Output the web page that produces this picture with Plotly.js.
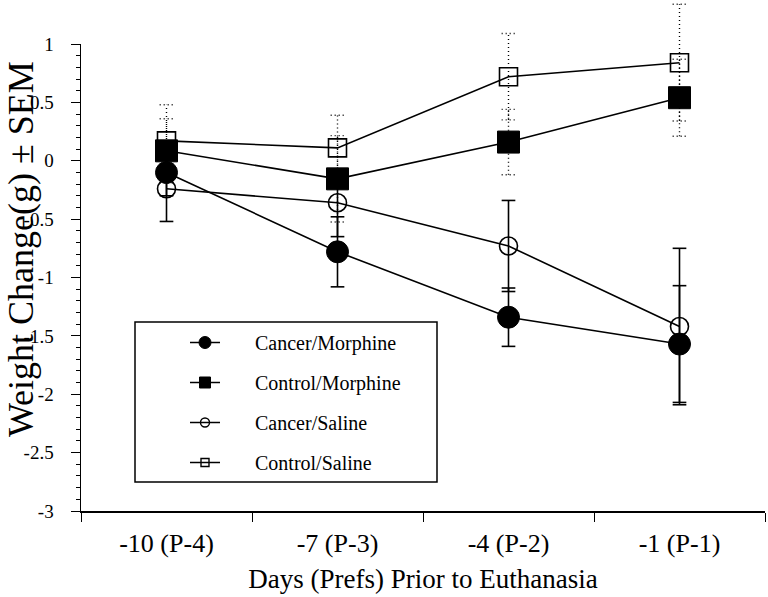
<!DOCTYPE html>
<html><head><meta charset="utf-8">
<script src="https://cdn.plot.ly/plotly-3.0.1.min.js"></script>
<style>html,body{margin:0;padding:0;background:#fff}#chart{width:768px;height:597px}</style>
</head><body><div id="chart"></div>
<script>
const days = ['-10 (P-4)', '-7 (P-3)', '-4 (P-2)', '-1 (P-1)'];
const dayIndex = [0, 1, 2, 3];
const cancerMorphine = [-0.10, -0.78, -1.34, -1.57];
const cancerMorphineSem = [0.20, 0.30, 0.25, 0.50];
const controlMorphine = [0.085, -0.155, 0.16, 0.54];
const controlMorphineSem = [0.275, 0.37, 0.28, 0.33];
const cancerSaline = [-0.24, -0.36, -0.73, -1.42];
const cancerSalineSem = [0.28, 0.29, 0.39, 0.67];
const controlSaline = [0.17, 0.11, 0.72, 0.84];
const controlSalineSem = [0.31, 0.28, 0.37, 0.50];
const yTickVals = [-3, -2.5, -2, -1.5, -1, -0.5, 0, 0.5, 1];
const yTickText = ['-3', '-2.5', '-2', '-1.5', '-1', '-0.5', '0', '0.5', '1'];
const xBoundaries = [-0.5, 0.5, 1.5, 2.5, 3.5];
const seriesNames = ['Cancer/Morphine', 'Control/Morphine', 'Cancer/Saline', 'Control/Saline'];

const FONT = 'Liberation Serif, Times New Roman, serif';
const CAP = 0.04;
const PAD = '\u00A0'.repeat(6);

function errPath(vals, sems) {
  const x = [], y = [];
  vals.forEach((v, i) => {
    const lo = v - sems[i], hi = v + sems[i];
    const xi = dayIndex[i];
    x.push(xi, xi, null, xi - CAP, xi + CAP, null, xi - CAP, xi + CAP, null);
    y.push(lo, hi, null, hi, hi, null, lo, lo, null);
  });
  return {x, y};
}

function errTrace(vals, sems, dotted) {
  const p = errPath(vals, sems);
  return {
    x: p.x, y: p.y, xaxis: 'x', yaxis: 'y2', type: 'scatter', mode: 'lines',
    line: {color: '#000', width: dotted ? 1.4 : 1.6, dash: dotted ? '1px,3px' : 'solid'},
    showlegend: false, hoverinfo: 'skip', connectgaps: false
  };
}

function seriesTrace(vals, symbol, size, lw) {
  return {
    x: dayIndex, y: vals, type: 'scatter', mode: 'lines+markers',
    xaxis: 'x', yaxis: 'y', showlegend: false,
    line: {color: '#000', width: 1.6},
    marker: {symbol: symbol, size: size, color: '#000', line: {color: '#000', width: lw}}
  };
}

function legendTrace(name, symbol, size, lw, group) {
  return {
    x: [null], y: [null], name: PAD + name, type: 'scatter', mode: 'lines+markers',
    xaxis: 'x', yaxis: 'y', legendgroup: group, showlegend: true,
    line: {color: '#000', width: 1.5},
    marker: {symbol: symbol, size: size, color: '#000', line: {color: '#000', width: lw}}
  };
}

const data = [
  errTrace(cancerMorphine, cancerMorphineSem, false),
  errTrace(controlMorphine, controlMorphineSem, true),
  errTrace(cancerSaline, cancerSalineSem, false),
  errTrace(controlSaline, controlSalineSem, true),
  seriesTrace(cancerMorphine, 'circle', 22, 1),
  seriesTrace(controlMorphine, 'square', 22, 1),
  seriesTrace(cancerSaline, 'circle-open', 18, 1.6),
  seriesTrace(controlSaline, 'square-open', 18, 1.6),
  legendTrace(seriesNames[0], 'circle', 12, 1, 'g1'),
  legendTrace(seriesNames[1], 'square', 11, 1, 'g2'),
  legendTrace(seriesNames[2], 'circle-open', 9, 1.4, 'g3'),
  legendTrace(seriesNames[3], 'square-open', 8, 1.4, 'g4')
];

const H1 = 467, H2 = 509;
const domTop = H1 / H2;

const layout = {
  width: 768, height: 597,
  margin: {l: 81, r: 3, t: 2, b: 86},
  paper_bgcolor: '#fff', plot_bgcolor: 'rgba(0,0,0,0)',
  font: {family: FONT, color: '#000'},
  showlegend: true,
  xaxis: {
    type: 'linear', range: [-0.5, 3.5], anchor: 'y',
    tickmode: 'array', tickvals: dayIndex, ticktext: days,
    ticks: '', showgrid: false, zeroline: false,
    showline: true, linecolor: '#000', linewidth: 1.5,
    tickfont: {family: FONT, size: 26, color: '#000'},
    ticklabelstandoff: 8,
    minor: {tickmode: 'array', tickvals: xBoundaries, ticks: 'outside', ticklen: 9, tickwidth: 1, tickcolor: '#000', showgrid: false},
    title: {text: 'Days (Prefs) Prior to Euthanasia', font: {family: FONT, size: 27, color: '#000'}, standoff: 12}
  },
  yaxis: {
    domain: [0, domTop], range: [-3, 1], anchor: 'x',
    tickmode: 'array', tickvals: yTickVals, ticktext: yTickText,
    ticks: 'outside', ticklen: 9, tickwidth: 1, tickcolor: '#000',
    minor: {dtick: 0.1, ticks: 'outside', ticklen: 4, tickwidth: 1, tickcolor: '#000', showgrid: false},
    showgrid: false, zeroline: false,
    showline: true, linecolor: '#000', linewidth: 1.5,
    tickfont: {family: FONT, size: 19, color: '#000'},
    ticklabelstandoff: 13
  },
  yaxis2: {
    domain: [0, 1], range: [-3, -3 + 4 * H2 / H1], anchor: 'x',
    visible: false, showgrid: false, zeroline: false
  },
  legend: {
    x: (185 - 81) / 684, xanchor: 'left',
    y: (511 - 323) / H2, yanchor: 'top',
    bgcolor: 'rgba(0,0,0,0)', borderwidth: 0,
    font: {family: FONT, size: 20, color: '#000'},
    traceorder: 'grouped', tracegroupgap: 11, itemsizing: 'trace'
  },
  shapes: [{
    type: 'rect', xref: 'paper', yref: 'paper',
    x0: (135 - 81) / 684, x1: (437 - 81) / 684,
    y0: (511 - 482) / H2, y1: (511 - 322) / H2,
    line: {color: '#000', width: 1.5}, fillcolor: 'rgba(0,0,0,0)', layer: 'above'
  }],
  annotations: [{
    text: 'Weight Change(g) \u00B1 SEM', textangle: -90, showarrow: false,
    xref: 'paper', yref: 'paper', x: (21 - 81) / 684, y: (511 - 249) / H2,
    xanchor: 'center', yanchor: 'middle',
    font: {family: FONT, size: 36, color: '#000'}
  }]
};

Plotly.newPlot('chart', data, layout, {displayModeBar: false, staticPlot: true});
</script>
</body></html>
